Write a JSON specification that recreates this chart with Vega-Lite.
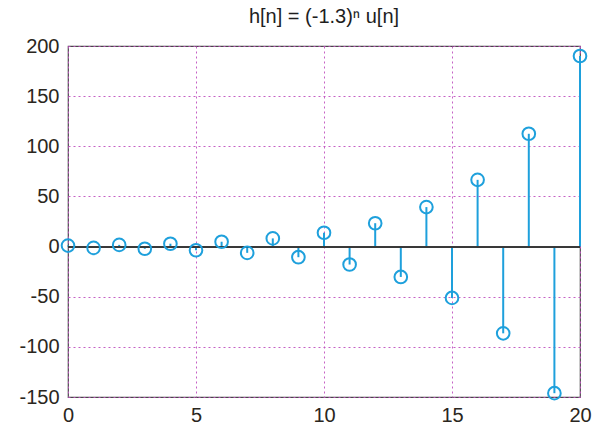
{
  "$schema": "https://vega.github.io/schema/vega-lite/v6.json",
  "width": 512,
  "height": 351,
  "autosize": {"type": "none"},
  "padding": {"left": 68, "top": 46, "right": 15, "bottom": 31},
  "background": "white",
  "title": {
    "text": "h[n] = (-1.3)ⁿ u[n]",
    "font": "Liberation Sans",
    "fontSize": 20,
    "fontWeight": "normal",
    "color": "#1e1e1e",
    "offset": 9
  },
  "config": {
    "view": {"stroke": "#4a4a4a", "strokeWidth": 1.2},
    "axis": {
      "labelFont": "Liberation Sans",
      "labelFontSize": 20,
      "labelColor": "#2a2620",
      "domain": false,
      "grid": true,
      "gridColor": "#c050c0",
      "gridDash": [2, 3],
      "gridWidth": 1,
      "gridOpacity": 0.9,
      "ticks": false,
      "title": null
    }
  },
  "data": {
    "values": [
      {"n": 0, "h": 1},
      {"n": 1, "h": -1.3},
      {"n": 2, "h": 1.69},
      {"n": 3, "h": -2.2},
      {"n": 4, "h": 2.86},
      {"n": 5, "h": -3.71},
      {"n": 6, "h": 4.83},
      {"n": 7, "h": -6.27},
      {"n": 8, "h": 8.16},
      {"n": 9, "h": -10.6},
      {"n": 10, "h": 13.79},
      {"n": 11, "h": -17.92},
      {"n": 12, "h": 23.3},
      {"n": 13, "h": -30.29},
      {"n": 14, "h": 39.37},
      {"n": 15, "h": -51.19},
      {"n": 16, "h": 66.54},
      {"n": 17, "h": -86.5},
      {"n": 18, "h": 112.46},
      {"n": 19, "h": -146.2},
      {"n": 20, "h": 190.05}
    ]
  },
  "layer": [
    {
      "mark": {"type": "rule", "color": "#1ea0dc", "strokeWidth": 2},
      "encoding": {
        "x": {
          "field": "n",
          "type": "quantitative",
          "scale": {"domain": [0, 20], "nice": false, "zero": false},
          "axis": {"values": [0, 5, 10, 15, 20], "labelPadding": 8, "labelFlush": false}
        },
        "y": {
          "field": "h",
          "type": "quantitative",
          "scale": {"domain": [-150, 200], "nice": false},
          "axis": {"values": [-150, -100, -50, 0, 50, 100, 150, 200], "labelPadding": 9, "labelExpr": "toString(datum.value)"}
        },
        "y2": {"datum": 0}
      }
    },
    {
      "mark": {"type": "rule", "color": "#3a3a3a", "strokeWidth": 1.3},
      "encoding": {"y": {"datum": 0, "type": "quantitative"}}
    },
    {
      "mark": {"type": "point", "shape": "circle", "filled": false, "size": 160, "strokeWidth": 2, "color": "#1ea0dc", "opacity": 1, "clip": false},
      "encoding": {
        "x": {"field": "n", "type": "quantitative"},
        "y": {"field": "h", "type": "quantitative"}
      }
    }
  ]
}
